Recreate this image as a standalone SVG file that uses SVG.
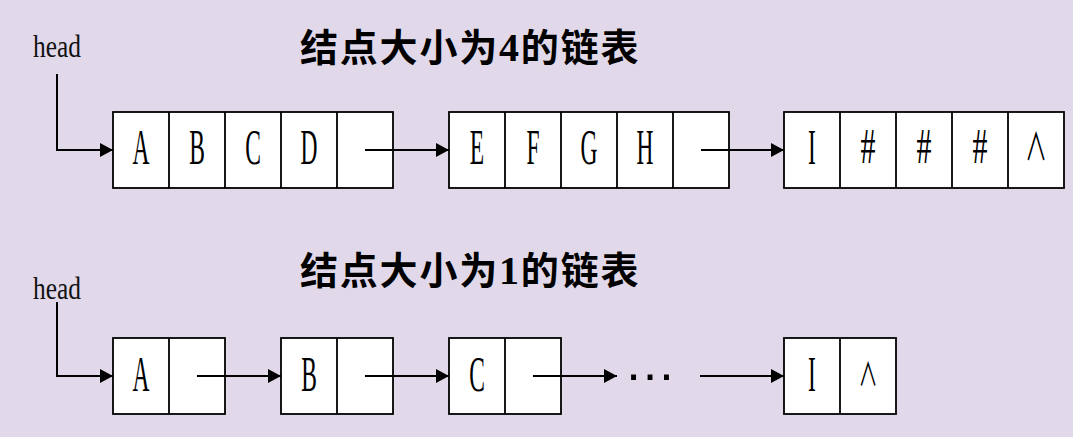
<svg xmlns="http://www.w3.org/2000/svg" width="1073" height="437" viewBox="0 0 1073 437">
<defs>
<marker id="arr" markerUnits="userSpaceOnUse" markerWidth="14" markerHeight="16" refX="13" refY="8" orient="auto">
<path d="M0,1 L13,8 L0,15 z" fill="#000"/>
</marker>
<style>
.bg{fill:#e1d9ea}
.cell{fill:#fff;stroke:#000;stroke-width:1.8}
.div{stroke:#000;stroke-width:1.8}
.lt{font-family:"Liberation Serif",serif;font-size:50px;fill:#000;text-anchor:middle}
.sym{font-family:"Noto Sans CJK SC",sans-serif;font-weight:400;fill:#000;text-anchor:middle}
.head{font-family:"Liberation Serif",serif;font-size:31px;fill:#111}
.title{font-family:"Noto Sans CJK SC",sans-serif;font-size:38px;font-weight:700;fill:#000;letter-spacing:1.8px}
.dig{font-family:"Liberation Serif",serif;font-weight:700;font-size:40px}
.con{fill:none;stroke:#000;stroke-width:2;marker-end:url(#arr)}
</style>
</defs>
<rect class="bg" x="0" y="0" width="1073" height="437"/>

<g id="titles">
<text class="title" x="300" y="61">结点大小为<tspan class="dig">4</tspan>的链表</text>
<text class="title" x="300" y="284">结点大小为<tspan class="dig">1</tspan>的链表</text>
</g>

<g id="head1"><text class="head" transform="translate(33,57) scale(0.82,1)">head</text></g>
<g id="head2"><text class="head" transform="translate(33,299) scale(0.82,1)">head</text></g>

<g id="node1">
<rect class="cell" x="113" y="112" width="280" height="76"/>
<path class="div" d="M169,112V188M225,112V188M281,112V188M337,112V188"/>
<text class="lt" transform="translate(141,164) scale(0.47,1)">A</text>
<text class="lt" transform="translate(197,164) scale(0.47,1)">B</text>
<text class="lt" transform="translate(253,164) scale(0.47,1)">C</text>
<text class="lt" transform="translate(309,164) scale(0.47,1)">D</text>
</g>

<g id="node2">
<rect class="cell" x="449" y="112" width="280" height="76"/>
<path class="div" d="M505,112V188M561,112V188M617,112V188M673,112V188"/>
<text class="lt" transform="translate(477,164) scale(0.47,1)">E</text>
<text class="lt" transform="translate(533,164) scale(0.47,1)">F</text>
<text class="lt" transform="translate(589,164) scale(0.47,1)">G</text>
<text class="lt" transform="translate(645,164) scale(0.47,1)">H</text>
</g>

<g id="node3">
<rect class="cell" x="784" y="112" width="280" height="76"/>
<path class="div" d="M840,112V188M896,112V188M952,112V188M1008,112V188"/>
<text class="lt" transform="translate(812,164) scale(0.47,1)">I</text>
<text class="lt" transform="translate(868,163) scale(0.6,1)">#</text>
<text class="lt" transform="translate(924,163) scale(0.6,1)">#</text>
<text class="lt" transform="translate(980,163) scale(0.6,1)">#</text>
<text class="sym" font-size="38" transform="translate(1036,160) scale(0.58,1)">∧</text>
</g>

<g id="nodeA">
<rect class="cell" x="113" y="338" width="112" height="76"/>
<path class="div" d="M169,338V414"/>
<text class="lt" transform="translate(141,391) scale(0.47,1)">A</text>
</g>
<g id="nodeB">
<rect class="cell" x="281" y="338" width="112" height="76"/>
<path class="div" d="M337,338V414"/>
<text class="lt" transform="translate(309,391) scale(0.47,1)">B</text>
</g>
<g id="nodeC">
<rect class="cell" x="449" y="338" width="112" height="76"/>
<path class="div" d="M505,338V414"/>
<text class="lt" transform="translate(477,391) scale(0.47,1)">C</text>
</g>
<g id="ellipsis">
<text x="650" y="380" font-family="Liberation Sans, sans-serif" font-size="52" text-anchor="middle" fill="#000">…</text>
</g>
<g id="nodeI">
<rect class="cell" x="784" y="338" width="112" height="76"/>
<path class="div" d="M840,338V414"/>
<text class="lt" transform="translate(812,391) scale(0.47,1)">I</text>
<text class="sym" font-size="32" transform="translate(868,386) scale(0.6,1)">∧</text>
</g>

<g id="connectors">
<path class="con" d="M57,74V150H113"/>
<path class="con" d="M365,150H449"/>
<path class="con" d="M701,150H784"/>
<path class="con" d="M57,302V376H113"/>
<path class="con" d="M197,376H281"/>
<path class="con" d="M365,376H449"/>
<path class="con" d="M533,376H617"/>
<path class="con" d="M700,376H784"/>
</g>
</svg>
